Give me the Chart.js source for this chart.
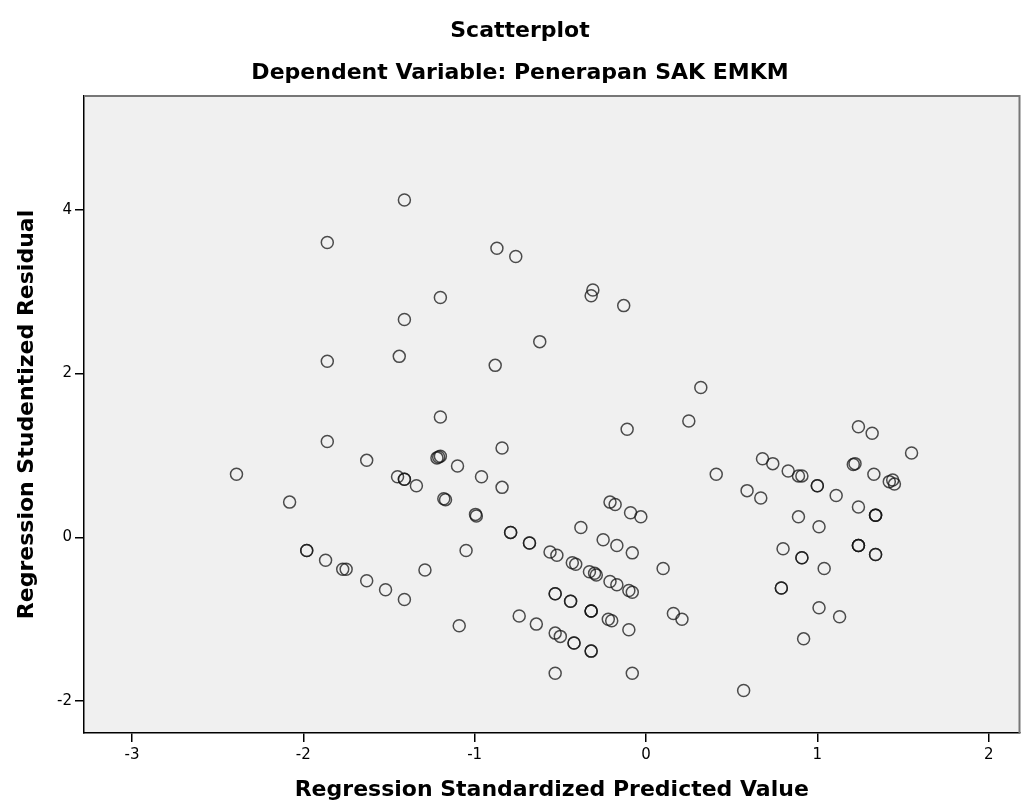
<!DOCTYPE html>
<html>
<head>
<meta charset="utf-8">
<script src="https://cdn.jsdelivr.net/npm/chart.js@4/dist/chart.umd.min.js"></script>
<style>
  html, body { margin: 0; padding: 0; background: #fff; }
  canvas { display: block; }
</style>
</head>
<body>
<canvas id="scatter" width="1027" height="811"></canvas>
<script>
// values
const predicted = [
  -1.41, -1.86, -0.87, -0.76, -0.31, -0.32, -0.13, -1.20, -1.41, -0.62,
  -1.86, -1.44, -0.88, 0.32, 0.25, -1.20, -0.11, 1.24, 1.32, -1.86,
  -0.84, 1.55, -1.63, -1.21, -1.20, -1.22, -1.10, 0.68, 0.74, 1.21,
  1.22, 0.83, 0.89, 0.91, -2.39, 0.41, 1.33, -0.96, -1.45, -1.41,
  -1.41, 1.44, 1.00, 1.00, 1.42, 1.45, -1.34, -0.84, 0.59, 1.11,
  0.67, -1.18, -1.17, -2.08, -0.21, -0.18, 1.24, -0.09, -0.995, -0.99,
  1.34, 1.34, 1.34, 0.89, -0.03, 1.01, -0.38, -0.79, -0.79, -0.25,
  -0.68, -0.68, 1.24, 1.24, 1.24, -0.17, 0.80, -1.05, -1.98, -1.98,
  -0.56, -0.08, 1.34, 1.34, -0.52, 0.91, 0.91, -1.87, -0.43, -0.41,
  -0.33, -0.30, -0.29, -1.77, -1.75, 0.10, 1.04, -1.29, -1.63, -0.21,
  -0.17, 0.79, 0.79, -1.52, -0.10, -0.08, -0.53, -0.53, -1.41, -0.44,
  -0.44, 1.01, -0.32, -0.32, -0.32, 0.16, -0.74, 1.13, -0.22, -0.20,
  0.21, -0.64, -1.09, -0.10, -0.53, -0.50, 0.92, -0.42, -0.42, -0.32,
  -0.32, -0.53, -0.08, 0.57
];
const residual = [
  4.12, 3.60, 3.53, 3.43, 3.02, 2.95, 2.83, 2.93, 2.66, 2.39,
  2.15, 2.21, 2.10, 1.83, 1.42, 1.47, 1.32, 1.35, 1.27, 1.17,
  1.09, 1.03, 0.94, 0.98, 0.99, 0.97, 0.87, 0.96, 0.90, 0.89,
  0.90, 0.81, 0.75, 0.75, 0.77, 0.77, 0.77, 0.74, 0.74, 0.71,
  0.71, 0.70, 0.63, 0.63, 0.68, 0.65, 0.63, 0.61, 0.57, 0.51,
  0.48, 0.47, 0.46, 0.43, 0.43, 0.40, 0.37, 0.30, 0.28, 0.26,
  0.27, 0.27, 0.27, 0.25, 0.25, 0.13, 0.12, 0.06, 0.06, -0.03,
  -0.07, -0.07, -0.10, -0.10, -0.10, -0.10, -0.14, -0.16, -0.16, -0.16,
  -0.18, -0.19, -0.21, -0.21, -0.22, -0.25, -0.25, -0.28, -0.31, -0.33,
  -0.42, -0.44, -0.46, -0.39, -0.39, -0.38, -0.38, -0.40, -0.53, -0.54,
  -0.58, -0.62, -0.62, -0.64, -0.65, -0.67, -0.69, -0.69, -0.76, -0.78,
  -0.78, -0.86, -0.90, -0.90, -0.90, -0.93, -0.96, -0.97, -1.00, -1.02,
  -1.00, -1.06, -1.08, -1.13, -1.17, -1.21, -1.24, -1.29, -1.29, -1.39,
  -1.39, -1.66, -1.66, -1.87
];
const xTicks = [-3, -2, -1, 0, 1, 2];
const yTicks = [-2, 0, 2, 4];

const chartTitle = 'Scatterplot';
const chartSubtitle = 'Dependent Variable: Penerapan SAK EMKM';
const xTitle = 'Regression Standardized Predicted Value';
const yTitle = 'Regression Studentized Residual';

const points = predicted.map((x, i) => ({ x: x, y: residual[i] }));

const titleFont = 'bold 22px "DejaVu Sans", Verdana, sans-serif';

// grey plot background, light frame and the text around the plot
const decor = {
  id: 'decor',
  beforeDraw(chart) {
    const a = chart.chartArea, ctx = chart.ctx;
    ctx.save();
    ctx.fillStyle = '#f0f0f0';
    ctx.fillRect(a.left, a.top, a.right - a.left, a.bottom - a.top);
    ctx.restore();
  },
  afterDraw(chart) {
    const a = chart.chartArea, ctx = chart.ctx;
    ctx.save();
    ctx.strokeStyle = '#777';
    ctx.lineWidth = 2;
    ctx.beginPath();
    ctx.moveTo(a.left, a.top);
    ctx.lineTo(a.right, a.top);
    ctx.lineTo(a.right, a.bottom);
    ctx.stroke();

    ctx.fillStyle = '#000';
    ctx.textAlign = 'center';
    ctx.textBaseline = 'middle';
    ctx.font = titleFont;
    ctx.fillText(chartTitle, 520, 31);
    ctx.fillText(chartSubtitle, 520, 73);
    ctx.fillText(xTitle, (a.left + a.right) / 2, 790);
    ctx.translate(27, (a.top + a.bottom) / 2);
    ctx.rotate(-Math.PI / 2);
    ctx.fillText(yTitle, 0, 0);
    ctx.restore();
  }
};

new Chart(document.getElementById('scatter'), {
  type: 'scatter',
  data: {
    datasets: [{
      data: points,
      pointStyle: 'circle',
      pointRadius: 6,
      pointHoverRadius: 6,
      pointBorderWidth: 1.5,
      borderColor: 'rgba(20,20,20,0.75)',
      backgroundColor: 'rgba(0,0,0,0)'
    }]
  },
  options: {
    responsive: false,
    animation: false,
    layout: { padding: { top: 96, right: 6, left: 0, bottom: 0 } },
    plugins: { legend: { display: false }, tooltip: { enabled: false } },
    scales: {
      x: {
        type: 'linear',
        min: -3.28,
        max: 2.18,
        afterBuildTicks: s => { s.ticks = xTicks.map(v => ({ value: v })); },
        afterFit: s => { s.height = 78; },
        border: { display: true, color: '#000', width: 1.5 },
        grid: { drawOnChartArea: false, drawTicks: true, tickLength: 9, color: '#000', lineWidth: 1.5 },
        ticks: { color: '#000', padding: 4, font: { family: '"DejaVu Sans", sans-serif', size: 15 } }
      },
      y: {
        type: 'linear',
        min: -2.39,
        max: 5.39,
        afterBuildTicks: s => { s.ticks = yTicks.map(v => ({ value: v })); },
        afterFit: s => { s.width = 84; },
        border: { display: true, color: '#000', width: 1.5 },
        grid: { drawOnChartArea: false, drawTicks: true, tickLength: 9, color: '#000', lineWidth: 1.5 },
        ticks: { color: '#000', padding: 3, font: { family: '"DejaVu Sans", sans-serif', size: 15 } }
      }
    }
  },
  plugins: [decor]
});
</script>
</body>
</html>
